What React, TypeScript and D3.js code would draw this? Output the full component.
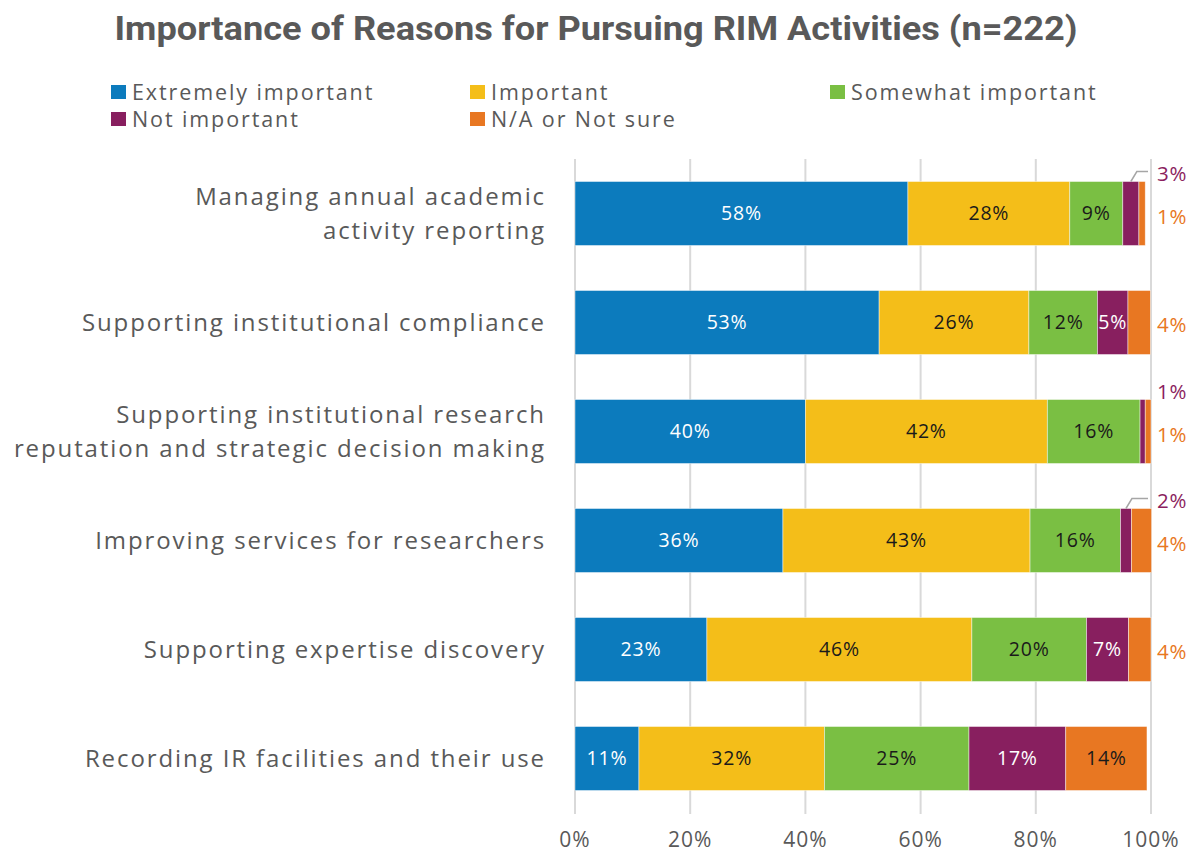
import React from "react";
import * as d3 from "d3";

const categories = [
  ["Managing annual academic", "activity reporting"],
  ["Supporting institutional compliance"],
  ["Supporting institutional research", "reputation and strategic decision making"],
  ["Improving services for researchers"],
  ["Supporting expertise discovery"],
  ["Recording IR facilities and their use"],
];
const seriesNames = ["Extremely important", "Important", "Somewhat important", "Not important", "N/A or Not sure"];
const extremely = [57.8, 52.8, 40.0, 36.1, 22.9, 11.1];
const important = [28.1, 26.0, 42.0, 42.9, 46.0, 32.2];
const somewhat = [9.2, 11.9, 16.1, 15.7, 19.9, 25.1];
const notImportant = [2.8, 5.3, 0.9, 1.9, 7.3, 16.8];
const naNotSure = [1.1, 3.9, 1.0, 3.5, 3.9, 14.1];
const ticks = [0, 20, 40, 60, 80, 100];

const colors = ["#0C7BBD", "#F4BE19", "#7ABF43", "#881F5F", "#E87722"];
const insideText = ["#FFFFFF", "#1A1A1A", "#1A1A1A", "#FFFFFF", "#1A1A1A"];
const outsideText = ["#0C7BBD", "#F4BE19", "#7ABF43", "#8B1E5E", "#E87722"];
const FONT = "Roboto, 'Noto Sans', sans-serif";
const LFONT = "'Open Sans', 'Noto Sans', sans-serif";
const GRAY = "#595959";

export default function App() {
  const W = 1195, H = 854;
  const series = [extremely, important, somewhat, notImportant, naNotSure];
  const keys = categories.map((_, i) => String(i));
  const x = d3.scaleLinear().domain([0, 100]).range([575, 1151]);
  const y = d3.scaleBand<string>().domain(keys).range([159, 813]).paddingInner(45 / 109).paddingOuter(45 / 218);
  const bw = y.bandwidth();

  const legendCols = [111, 470, 830];
  const legendRows = [92, 119];

  return (
    <svg width={W} height={H} style={{ position: "absolute", left: 0, top: 0, background: "#fff" }} fontFamily={LFONT}>
      <text x={596} y={40} textAnchor="middle" fontSize={33} fontWeight={700} fill={GRAY} fontFamily={FONT} textLength={963} lengthAdjust="spacingAndGlyphs">
        Importance of Reasons for Pursuing RIM Activities (n=222)
      </text>
      {seriesNames.map((name, i) => {
        const lx = legendCols[i % 3];
        const ly = legendRows[Math.floor(i / 3)];
        return (
          <g key={name}>
            <rect x={lx} y={ly - 7} width={15} height={14} fill={colors[i]} />
            <text x={lx + 21} y={ly} dy="0.35em" fontSize={21.5} fill={GRAY} letterSpacing={1.9}>{name}</text>
          </g>
        );
      })}
      {ticks.map((t) => (
        <g key={t}>
          <line x1={x(t)} x2={x(t)} y1={159} y2={814} stroke="#D9D9D9" strokeWidth={2} />
          <text x={x(t)} y={840} dy="0.35em" textAnchor="middle" fontSize={21} fill={GRAY} letterSpacing={1}>{t}%</text>
        </g>
      ))}
      {keys.map((k, r) => {
        const y0 = y(k)!;
        const cy = y0 + bw / 2;
        let acc = 0;
        const lines = categories[r];
        const segs = series.map((s, si) => {
          const v = s[r];
          const a = acc;
          acc += v;
          return { si, v, a, b: acc };
        });
        const purple = segs[3];
        const orange = segs[4];
        const purpleOut = purple.v < 4.5;
        const orangeOut = orange.v < 4.5;
        const pmid = x((purple.a + purple.b) / 2);
        return (
          <g key={k}>
            {lines.map((ln, li) => (
              <text key={li} x={546} y={cy + (li - (lines.length - 1) / 2) * 34} dy="0.35em" textAnchor="end" fontSize={24} fill={GRAY} letterSpacing={1.9}>{ln}</text>
            ))}
            {segs.map((sg) => (
              <rect key={sg.si} x={x(sg.a)} y={y0} width={x(sg.b) - x(sg.a)} height={bw} fill={colors[sg.si]} stroke="#fff" strokeOpacity={0.6} strokeWidth={0.75} />
            ))}
            {segs.map((sg) => {
              if ((sg.si === 3 && purpleOut) || (sg.si === 4 && orangeOut)) return null;
              return (
                <text key={"t" + sg.si} x={(x(sg.a) + x(sg.b)) / 2} y={cy} dy="0.35em" textAnchor="middle" fontSize={19.5} fill={insideText[sg.si]} letterSpacing={0.8}>
                  {Math.round(sg.v)}%
                </text>
              );
            })}
            {purpleOut && (
              <g>
                {1150 - pmid > 12 && (
                  <polyline points={`${pmid},${y0} ${pmid + 6},${y0 - 10} ${1148},${y0 - 10}`} fill="none" stroke="#A6A6A6" strokeWidth={1.5} />
                )}
                <text x={1157} y={y0 - 8} dy="0.35em" fontSize={20.5} fill={outsideText[3]} letterSpacing={0.8}>{Math.round(purple.v)}%</text>
              </g>
            )}
            {orangeOut && (
              <text x={1157} y={cy + (purpleOut ? 3 : 2)} dy="0.35em" fontSize={20.5} fill={outsideText[4]} letterSpacing={0.8}>{Math.round(orange.v)}%</text>
            )}
          </g>
        );
      })}
    </svg>
  );
}
